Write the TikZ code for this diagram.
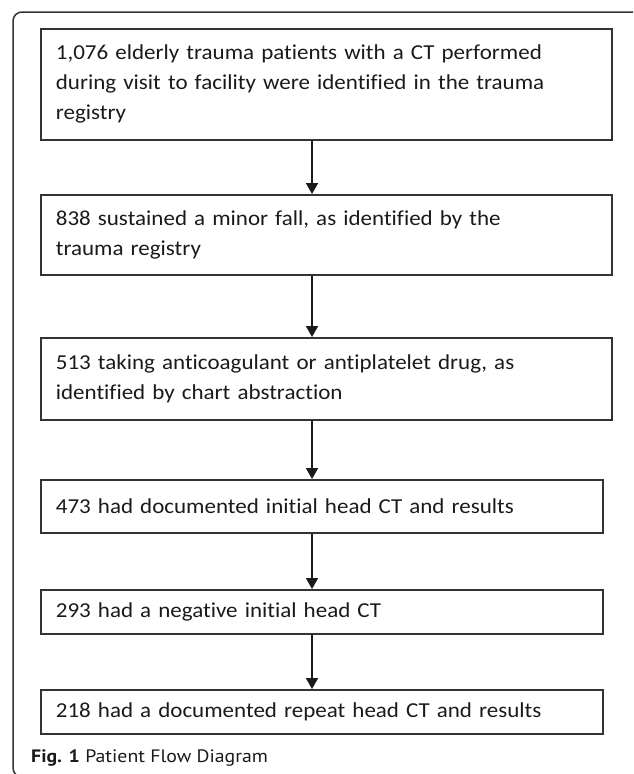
\documentclass[tikz,border=0pt]{standalone}
\usepackage{fontspec}
\setmainfont[Ligatures={NoCommon,NoRare}, FakeStretch=1.08]{Carlito}
\newfontfamily\capfont[FakeStretch=1.1]{PT Sans}
\usetikzlibrary{arrows.meta}
\definecolor{edge}{HTML}{333333}
\definecolor{ink}{HTML}{1A1A1A}
\tikzset{
  flowbox/.style={draw=edge, line width=1.7pt, anchor=north west, inner xsep=15pt,
    align=left, text=ink, font=\fontsize{21.3pt}{30pt}\selectfont},
  flowarrow/.style={draw=ink, line width=1.8pt, -{Triangle[length=11pt,width=12pt]}},
  frame/.style={draw=edge, line width=1.5pt, rounded corners=9pt}
}
\begin{document}
\begin{tikzpicture}[x=1pt,y=-1pt]
\useasboundingbox (0,0) rectangle (633,774);
\begin{scope}
\clip (0,0) rectangle (633,774);
\draw[frame] (660,12) -- (13,12) -- (13,777) -- (660,777);
\end{scope}
\node[flowbox, text width=541pt, minimum width=571pt, minimum height=111pt] (b1) at (40,28)
  {1,076 elderly trauma patients with a CT performed\\during visit to facility were identified in the trauma\\registry};
\node[flowbox, text width=541pt, minimum width=571pt, minimum height=80pt] (b2) at (40,194)
  {838 sustained a minor fall, as identified by the\\trauma registry};
\node[flowbox, text width=541pt, minimum width=571pt, minimum height=82pt] (b3) at (40,337)
  {513 taking anticoagulant or antiplatelet drug, as\\identified by chart abstraction};
\node[flowbox, text width=532pt, minimum width=562pt, minimum height=53pt] (b4) at (40,479)
  {473 had documented initial head CT and results};
\node[flowbox, text width=532pt, minimum width=562pt, minimum height=44pt] (b5) at (40,589)
  {293 had a negative initial head CT};
\node[flowbox, text width=532pt, minimum width=562pt, minimum height=44pt] (b6) at (40,689)
  {218 had a documented repeat head CT and results};
\node[anchor=west, inner sep=0pt, text=ink, font=\capfont\fontsize{18pt}{20pt}\selectfont] (cap) at (31,758)
  {\textbf{Fig. 1} Patient Flow Diagram};
\coordinate (ax) at (312,0);
\draw[flowarrow] (b1.south -| ax) -- (b2.north -| ax);
\draw[flowarrow] (b2.south -| ax) -- (b3.north -| ax);
\draw[flowarrow] (b3.south -| ax) -- (b4.north -| ax);
\draw[flowarrow] (b4.south -| ax) -- (b5.north -| ax);
\draw[flowarrow] (b5.south -| ax) -- (b6.north -| ax);
\end{tikzpicture}
\end{document}
